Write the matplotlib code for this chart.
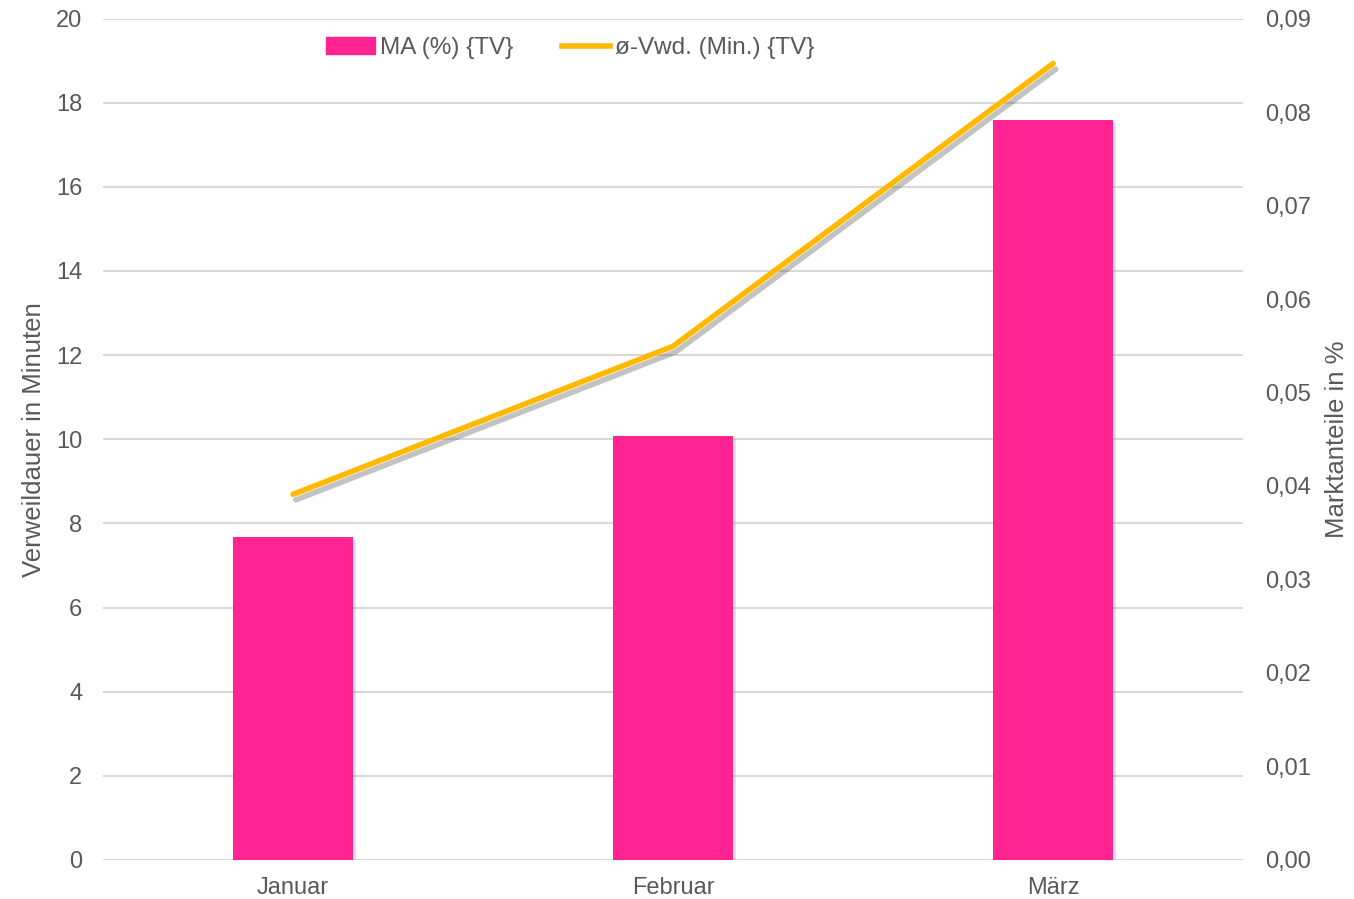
import matplotlib.pyplot as plt
import matplotlib.patheffects as pe
from matplotlib.patches import Patch
from matplotlib.lines import Line2D

plt.rcParams['font.family'] = ['Liberation Sans', 'DejaVu Sans']

months = ['Januar', 'Februar', 'März']
ma_tv = [0.0345, 0.0453, 0.0791]        # Marktanteile in % (rechte Achse)
vwd_tv = [8.69, 12.21, 18.93]           # Verweildauer in Minuten (linke Achse)

pink = '#FF2491'
gold = '#FFB900'
grey = '#595959'

fig = plt.figure(figsize=(13.54, 8.99), dpi=100, facecolor='white')
ax = fig.add_axes([0.0761, 0.0434, 0.842, 0.936])
ax2 = ax.twinx()

x = range(len(months))

# Balken auf der rechten Achse
ax2.bar(x, ma_tv, width=0.316, color=pink, zorder=2,
        path_effects=[pe.SimplePatchShadow(offset=(2, -2), shadow_rgbFace='#999999', alpha=0.3), pe.Normal()])
ax2.set_ylim(0, 0.09)
ax2.set_yticks([i / 100 for i in range(10)])
ax2.set_yticklabels([f'{i / 100:.2f}'.replace('.', ',') for i in range(10)])
ax2.set_ylabel('Marktanteile in %', fontsize=18.5, color=grey, labelpad=10)

# Linie auf der linken Achse (über den Balken zeichnen)
ax.set_zorder(ax2.get_zorder() + 1)
ax.patch.set_visible(False)
ax.plot(x, vwd_tv, color=gold, linewidth=4, solid_capstyle='round', zorder=3,
        path_effects=[pe.SimpleLineShadow(offset=(2, -4), shadow_color='#555555', alpha=0.35), pe.Normal()])
ax.set_ylim(0, 20)
ax.set_yticks(range(0, 21, 2))
ax.set_ylabel('Verweildauer in Minuten', fontsize=18.5, color=grey, labelpad=7)
ax.set_xlim(-0.5, 2.5)
ax.set_xticks(list(x))
ax.set_xticklabels(months)

# Gitter auf der Balkenachse, damit es hinter den Balken liegt
for v in range(0, 21, 2):
    ax2.axhline(v * 0.09 / 20, color='#D9D9D9', linewidth=1.5, zorder=0)

for a in (ax, ax2):
    for s in a.spines.values():
        s.set_visible(False)
    a.tick_params(length=0, labelsize=17, colors=grey)
ax.tick_params(axis='y', pad=15)
ax2.tick_params(axis='y', pad=16)
ax.tick_params(axis='x', pad=12)

handles = [Patch(color=pink, label='MA (%) {TV}'),
           Line2D([0], [0], color=gold, linewidth=4, label='ø-Vwd. (Min.) {TV}')]
ax.legend(handles=handles, loc='upper center', bbox_to_anchor=(0.41, 1.004), ncol=2,
          frameon=False, fontsize=17.5, labelcolor=grey, handlelength=2.0,
          handletextpad=0.2, columnspacing=2.0)

plt.savefig('out.png', dpi=100, facecolor='white')
